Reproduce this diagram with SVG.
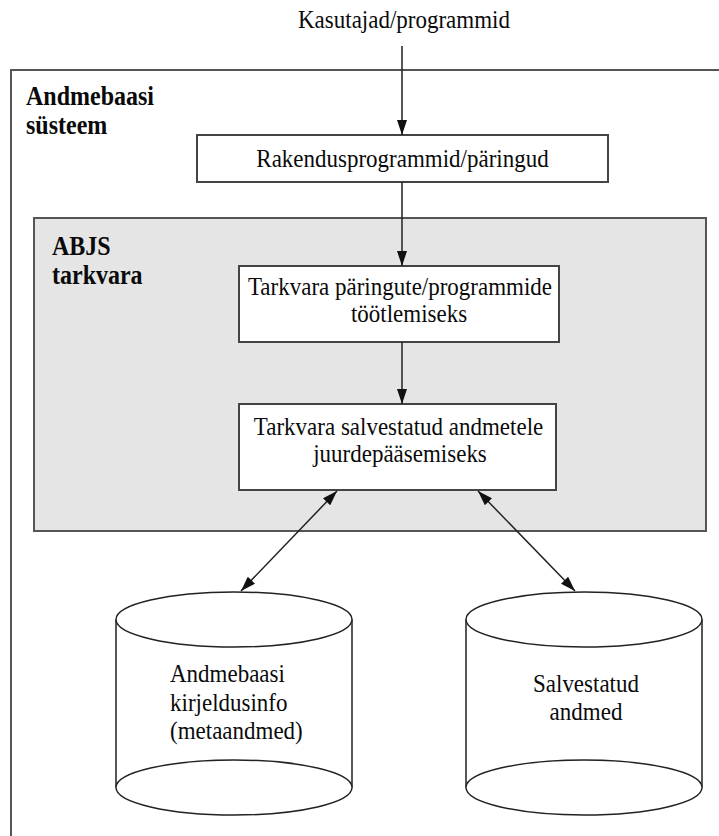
<svg xmlns="http://www.w3.org/2000/svg" width="719" height="836" viewBox="0 0 719 836">
<defs>
<style>
.t{font-family:'Liberation Serif','DejaVu Serif',serif;font-size:23px;fill:#0a0a0a}
.m{text-anchor:middle}
.b{font-family:'Liberation Serif','DejaVu Serif',serif;font-size:24px;font-weight:bold;fill:#0a0a0a}
.box{fill:#fff;stroke:#444;stroke-width:2}
.cyl{fill:#fff;stroke:#222;stroke-width:1.5}
.con{stroke:#222;stroke-width:1.5;fill:none}
</style>
<marker id="ah" viewBox="0 0 15 10" refX="15" refY="5" markerWidth="15" markerHeight="10" markerUnits="userSpaceOnUse" orient="auto-start-reverse">
<path d="M0,0 L15,5 L0,10 z" fill="#111"/>
</marker>
</defs>
<g id="system">
<rect x="11" y="70" width="730" height="800" fill="#fff" stroke="#555" stroke-width="2"/>
<text class="b" transform="translate(26,105) scale(1,1.1)">Andmebaasi</text>
<text class="b" transform="translate(26,134) scale(1,1.1)">süsteem</text>
</g>
<g id="abjs">
<rect x="34" y="218" width="672" height="313" fill="#e5e5e5" stroke="#555" stroke-width="2"/>
<text class="b" transform="translate(52,255) scale(1,1.1)">ABJS</text>
<text class="b" transform="translate(52,284) scale(1,1.1)">tarkvara</text>
</g>
<g id="users">
<text class="t m" transform="translate(404,28) scale(1,1.12)">Kasutajad/programmid</text>
</g>
<g id="apps">
<rect class="box" x="197" y="135" width="411" height="47"/>
<text class="t m" transform="translate(402.5,167) scale(1,1.12)">Rakendusprogrammid/päringud</text>
</g>
<g id="query">
<rect class="box" x="239" y="266" width="320" height="76"/>
<text class="t m" transform="translate(400,295) scale(1,1.12)">Tarkvara päringute/programmide</text>
<text class="t m" transform="translate(409,322) scale(1,1.12)">töötlemiseks</text>
</g>
<g id="access">
<rect class="box" x="239" y="404" width="317" height="86"/>
<text class="t m" transform="translate(398.5,435) scale(1,1.12)">Tarkvara salvestatud andmetele</text>
<text class="t m" transform="translate(400,462) scale(1,1.12)">juurdepääsemiseks</text>
</g>
<g id="meta">
<path class="cyl" d="M116,619.5 L116,787.5 A118,27.5 0 0 0 352,787.5 L352,619.5"/>
<ellipse class="cyl" cx="234" cy="619.5" rx="118" ry="27.5"/>
<path class="cyl" d="M116,787.5 A118,27.5 0 0 1 352,787.5"/>
<text class="t" transform="translate(170,682) scale(1,1.12)">Andmebaasi</text>
<text class="t" transform="translate(170,711) scale(1,1.12)">kirjeldusinfo</text>
<text class="t" transform="translate(170,739) scale(1,1.12)">(metaandmed)</text>
</g>
<g id="data">
<path class="cyl" d="M466,619.5 L466,787.5 A118,27.5 0 0 0 702,787.5 L702,619.5"/>
<ellipse class="cyl" cx="584" cy="619.5" rx="118" ry="27.5"/>
<path class="cyl" d="M466,787.5 A118,27.5 0 0 1 702,787.5"/>
<text class="t m" transform="translate(586,692) scale(1,1.12)">Salvestatud</text>
<text class="t m" transform="translate(586,720) scale(1,1.12)">andmed</text>
</g>
<g id="connectors">
<line class="con" x1="402" y1="46" x2="402" y2="135" marker-end="url(#ah)"/>
<line class="con" x1="402" y1="182" x2="402" y2="266" marker-end="url(#ah)"/>
<line class="con" x1="402" y1="342" x2="402" y2="404" marker-end="url(#ah)"/>
<line class="con" x1="337" y1="491" x2="241" y2="591" marker-start="url(#ah)" marker-end="url(#ah)"/>
<line class="con" x1="478" y1="491" x2="575" y2="591" marker-start="url(#ah)" marker-end="url(#ah)"/>
</g>
</svg>
